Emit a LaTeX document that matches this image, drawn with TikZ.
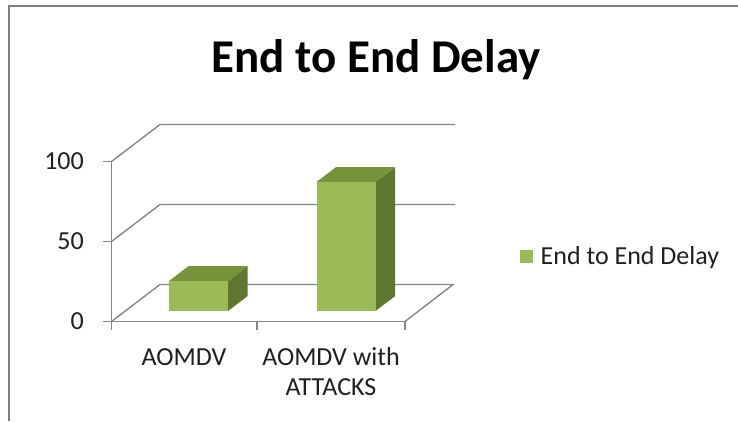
\documentclass[tikz,border=0pt]{standalone}
\usepackage{fontspec}
\setmainfont{Carlito}
\definecolor{gridc}{RGB}{134,134,134}
\definecolor{framec}{RGB}{128,128,128}
\definecolor{barfront}{RGB}{155,187,89}
\definecolor{bartop}{RGB}{119,147,60}
\definecolor{barside}{RGB}{96,119,48}
\tikzset{
  gridline/.style={draw=gridc, line width=1.4pt},
  lbl/.style={inner sep=0pt, font=\fontsize{26}{31}\selectfont, text=black!88},
  ylbl/.style={lbl, anchor=east},
  barfrontface/.style={fill=barfront, draw=none},
  bartopface/.style={fill=bartop, draw=none},
  barsideface/.style={fill=barside, draw=none},
}
\begin{document}
\begin{tikzpicture}[x=1pt,y=-1pt]
\useasboundingbox[fill=white] (0,0) rectangle (738,421);
% outer frame (top and left edges)
\draw[framec, line width=2pt] (8.5,421) -- (8.5,5.5) -- (738,5.5);

% title
\node[font=\fontsize{47}{56}\selectfont\bfseries, inner sep=0pt, anchor=base] (title) at (376,72) {End to End Delay};

% back wall gridlines and their side-wall diagonals
\foreach \yf/\yb in {161.5/124.5, 241.5/204.5} {
  \draw[gridline] (111.5,\yf) -- (160,\yb) -- (455,\yb);
}
% floor
\draw[gridline] (111.5,321.5) -- (160,284.5) -- (453,284.5) -- (405,321.5);
% vertical axis with ticks
\draw[gridline] (111.5,161.5) -- (111.5,321.5);
\foreach \yt in {161.5,241.5,321.5} \draw[gridline] (102.5,\yt) -- (111.5,\yt);
% horizontal axis with ticks
\draw[gridline] (111.5,321.5) -- (405,321.5);
\foreach \xt in {111.5,257,405} \draw[gridline] (\xt,321.5) -- (\xt,330);

% bars: front, top and side faces
\foreach \xl/\xr/\yt in {169/228/281, 316.5/375.5/182} {
  \fill[barsideface] (\xr,\yt) -- (\xr+19.7,\yt-15) -- (\xr+19.7,296) -- (\xr,311) -- cycle;
  \fill[bartopface] (\xl,\yt) -- (\xl+19.7,\yt-15) -- (\xr+19.7,\yt-15) -- (\xr,\yt) -- cycle;
  \fill[barfrontface] (\xl,\yt) rectangle (\xr,311);
}

% value axis labels
\node[ylbl] (y100) at (84,161.5) {100};
\node[ylbl] (y50) at (84,241.5) {50};
\node[ylbl] (y0) at (84,321.5) {0};

% category labels
\node[lbl, anchor=base] (c1) at (184,365) {AOMDV};
\node[lbl, anchor=base] (c2a) at (331,365) {AOMDV with};
\node[lbl, anchor=base] (c2b) at (331,395) {ATTACKS};

% legend
\fill[barfront] (519.5,250) rectangle (532.5,263);
\node[lbl, anchor=base west] (leg) at (540.5,264) {End to End Delay};
\end{tikzpicture}
\end{document}
